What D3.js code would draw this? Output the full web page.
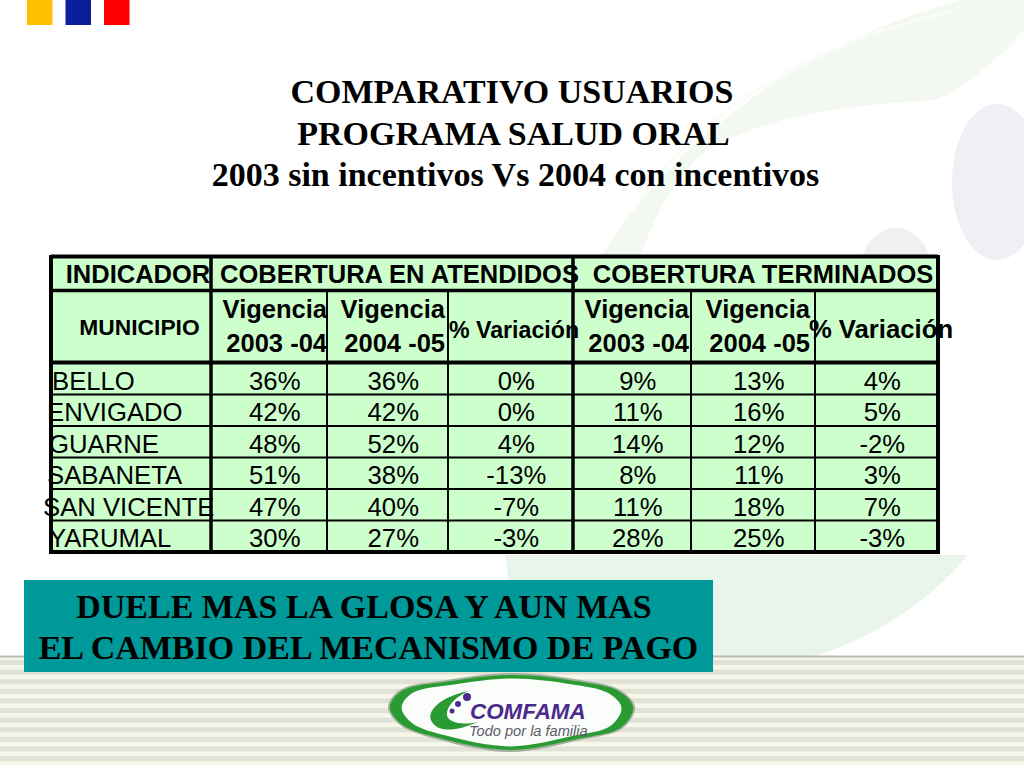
<!DOCTYPE html>
<html>
<head>
<meta charset="utf-8">
<script src="https://cdn.jsdelivr.net/npm/d3@7"></script>
<style>
  html, body { margin: 0; padding: 0; background: #fff; }
  svg { display: block; }
  text { font-family: "Liberation Sans", Arial, sans-serif; fill: #000; }
  .serif { font-family: "Liberation Serif", "Times New Roman", serif; font-weight: bold; }
</style>
</head>
<body>
<div id="chart"></div>
<script>
const titleLines = ["COMPARATIVO USUARIOS", "PROGRAMA SALUD ORAL", "2003 sin incentivos Vs 2004 con incentivos"];
const bannerLines = ["DUELE MAS LA GLOSA Y AUN MAS", "EL CAMBIO DEL MECANISMO DE PAGO"];

const municipios = ["BELLO", "ENVIGADO", "GUARNE", "SABANETA", "SAN VICENTE", "YARUMAL"];
const atendidos2003 = [36, 42, 48, 51, 47, 30];
const atendidos2004 = [36, 42, 52, 38, 40, 27];
const atendidosVar = [0, 0, 4, -13, -7, -3];
const terminados2003 = [9, 11, 14, 8, 11, 28];
const terminados2004 = [13, 16, 12, 11, 18, 25];
const terminadosVar = [4, 5, -2, 3, 7, -3];

const valueColumns = [atendidos2003, atendidos2004, atendidosVar, terminados2003, terminados2004, terminadosVar];
const columnKeys = ["a03", "a04", "aVar", "t03", "t04", "tVar"];
const periodLines = [["Vigencia", "2003 -04"], ["Vigencia", "2004 -05"]];
const groupHeaders = ["COBERTURA EN ATENDIDOS", "COBERTURA TERMINADOS"];

const svg = d3.select("#chart").append("svg").attr("width", 1024).attr("height", 768);

// background decoration, the slide template
const bg = svg.append("g");
bg.append("path")
  .attr("d", "M600,258 C660,160 780,50 960,0 L1024,0 L1024,30 C990,70 950,95 935,100 C850,105 760,115 700,155 C665,190 650,230 640,258 Z")
  .attr("fill", "#f3f8f0");
bg.append("path")
  .attr("d", "M640,200 C700,110 820,40 950,12")
  .attr("fill", "none")
  .attr("stroke", "#fafcf8")
  .attr("stroke-width", 3);
bg.append("path")
  .attr("d", "M505,555 L968,555 C930,600 880,635 815,656 L520,656 Z")
  .attr("fill", "#e9f4ea");
bg.append("ellipse").attr("cx", 997).attr("cy", 182).attr("rx", 45).attr("ry", 78).attr("fill", "#eef0f6");
bg.append("ellipse").attr("cx", 896).attr("cy", 270).attr("rx", 35).attr("ry", 42).attr("fill", "#f0f0f3");

bg.append("rect").attr("x", 0).attr("y", 657).attr("width", 1024).attr("height", 108).attr("fill", "#f6f7e8");
bg.append("rect").attr("x", 0).attr("y", 655.5).attr("width", 1024).attr("height", 2).attr("fill", "#b9bdb4");
bg.selectAll(".stripe")
  .data(d3.range(660, 762, 9.6))
  .enter()
  .append("rect")
  .attr("class", "stripe")
  .attr("x", 0)
  .attr("y", d => d)
  .attr("width", 1024)
  .attr("height", 5)
  .attr("fill", "#e0e2d6");

// corner squares
svg.selectAll(".corner")
  .data(["#ffc000", "#0a1f9c", "#ff0000"])
  .enter()
  .append("rect")
  .attr("class", "corner")
  .attr("x", (d, i) => 27 + i * 38.5)
  .attr("y", 0)
  .attr("width", 25.5)
  .attr("height", 25)
  .attr("fill", d => d);

// title
svg.selectAll(".title")
  .data(titleLines)
  .enter()
  .append("text")
  .attr("class", "title serif")
  .attr("x", (d, i) => [512, 513.5, 515.5][i])
  .attr("y", (d, i) => 103 + i * 41.7)
  .attr("text-anchor", "middle")
  .style("font-size", "34px")
  .text(d => d);

// table
const edges = [51, 211, 327, 448, 573, 691, 815, 938];
const rowTop = 363, rowBottom = 552;
const x = d3.scaleOrdinal().domain(columnKeys).range(edges.slice(1, 7));
const xEnd = d3.scaleOrdinal().domain(columnKeys).range(edges.slice(2));
const mid = k => (x(k) + xEnd(k)) / 2;
const y = d3.scaleBand().domain(municipios).range([rowTop, rowBottom]);

const table = svg.append("g");
table.append("rect").attr("x", 51).attr("y", 256).attr("width", 887).attr("height", 296).attr("fill", "#ccffcc");

const hline = (yy, w) => table.append("line").attr("x1", 51).attr("x2", 938).attr("y1", yy).attr("y2", yy).attr("stroke", "#000").attr("stroke-width", w);
const vline = (xx, y1, w) => table.append("line").attr("x1", xx).attr("x2", xx).attr("y1", y1).attr("y2", 554).attr("stroke", "#000").attr("stroke-width", w);

municipios.slice(1).forEach(m => hline(y(m), 2));
hline(256.5, 4); hline(290.5, 3.5); hline(362.5, 4); hline(552, 4);
vline(51, 255, 4); vline(938, 255, 4); vline(211, 255, 3.5); vline(573, 255, 3.5);
["a04", "aVar", "t04", "tVar"].forEach(k => vline(x(k), 291, 2));

const label = (txt, xx, yy, size, weight, anchor) =>
  table.append("text").attr("x", xx).attr("y", yy)
    .attr("text-anchor", anchor || "middle")
    .style("font-size", size + "px").style("font-weight", weight || "normal").text(txt);

label("INDICADOR", 138, 282.5, 25.5, "bold");
label(groupHeaders[0], 399.5, 282.5, 25.5, "bold");
label(groupHeaders[1], 763, 282.5, 25.5, "bold");
label("MUNICIPIO", 139.5, 335, 22.8, "bold");

// vigencia headers sit flush with the right edge of their cell
const periodRight = { a03: 327, a04: 445, t03: 689, t04: 810 };
[["a03", "a04"], ["t03", "t04"]].forEach(pair => {
  pair.forEach((k, i) => {
    label(periodLines[i][0], periodRight[k], 318, 25.5, "bold", "end");
    label(periodLines[i][1], periodRight[k], 351.5, 25.5, "bold", "end");
  });
});
label("% Variación", 514, 338, 23.2, "bold");
label("% Variación", 881, 338, 25.7, "bold");

const nameX = [52, 47, 49, 47, 43, 49];
municipios.forEach((m, r) => {
  table.append("text")
    .attr("x", nameX[r])
    .attr("y", y(m) + 26.5)
    .style("font-size", "25.7px")
    .text(m);
  valueColumns.forEach((col, c) => {
    label(col[r] + "%", mid(columnKeys[c]) + 5.8, y(m) + 26.5, 25.7);
  });
});

// banner
svg.append("rect").attr("x", 24).attr("y", 580).attr("width", 689).attr("height", 92).attr("fill", "#009999");
svg.selectAll(".banner")
  .data(bannerLines)
  .enter()
  .append("text")
  .attr("class", "banner serif")
  .attr("x", (d, i) => i ? 368.5 : 364)
  .attr("y", (d, i) => 618 + i * 41)
  .attr("text-anchor", "middle")
  .style("font-size", "34px")
  .text(d => d);

// logo
const logo = svg.append("g");
const logoShape = [[388, 707], [400, 690], [447, 680], [513, 673], [580, 680], [620, 690], [635, 707], [623, 728], [580, 740], [510, 752], [440, 740], [400, 725]];
const closed = d3.line().curve(d3.curveCatmullRomClosed);
const scaled = (sx, sy) => logoShape.map(p => [512 + (p[0] - 512) * sx, 712 + (p[1] - 712) * sy]);
logo.append("path").attr("d", closed(logoShape)).attr("fill", "#9fb09d");
logo.append("path").attr("d", closed(scaled(0.985, 0.95))).attr("fill", "#2a9a33");
logo.append("path").attr("d", closed(scaled(0.89, 0.86))).attr("fill", "#fbfdfb");
logo.append("path")
  .attr("d", "M468,691 C440,697 425,712 432,722 C438,732 455,732 478,722 C460,726 445,722 447,712 C449,703 458,696 468,691 Z")
  .attr("fill", "#2a9a33");
logo.selectAll(".dot")
  .data([[467, 697, 4], [458, 704, 3], [452, 711, 2.5]])
  .enter()
  .append("circle")
  .attr("class", "dot")
  .attr("cx", d => d[0]).attr("cy", d => d[1]).attr("r", d => d[2]).attr("fill", "#4a2a8c");
logo.append("text").attr("x", 470).attr("y", 718.5)
  .style("font-size", "22.4px").style("font-weight", "bold").style("font-style", "italic").style("fill", "#4a2a8c").text("COMFAMA");
logo.append("text").attr("x", 469).attr("y", 736)
  .style("font-size", "14.6px").style("font-style", "italic").style("fill", "#5b5a68").text("Todo por la familia");
</script>
</body>
</html>
